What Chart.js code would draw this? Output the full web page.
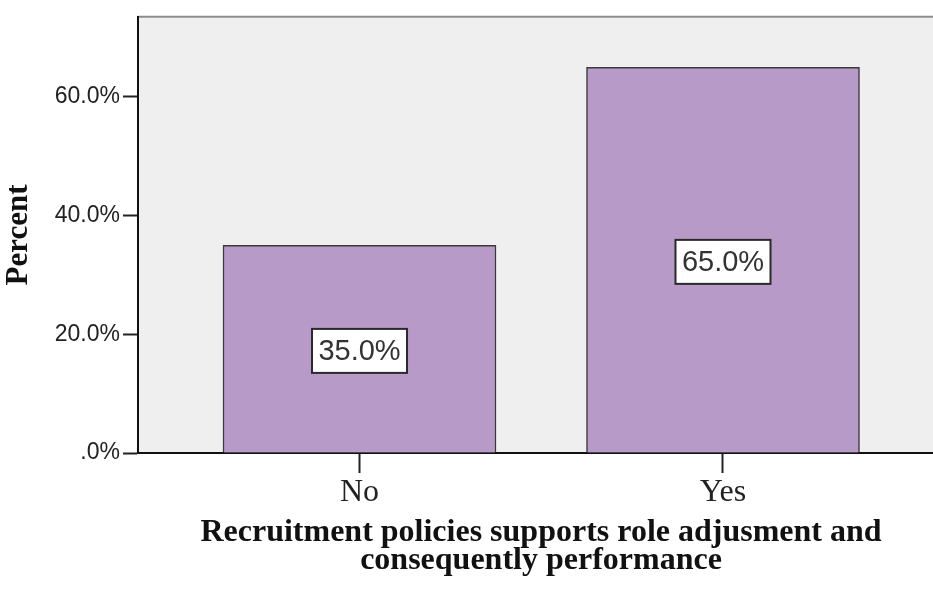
<!DOCTYPE html>
<html>
<head>
<meta charset="utf-8">
<title>Recruitment policies</title>
<script src="https://cdn.jsdelivr.net/npm/chart.js@4"></script>
<style>
  html, body { margin: 0; padding: 0; background: #fff; overflow: hidden; }
  canvas { display: block; }
</style>
</head>
<body>
<canvas id="barChart" width="950" height="590"></canvas>
<script>
const categories = ["No", "Yes"];
const percents = [35.0, 65.0];
const yTicks = [0, 20, 40, 60];
const yMax = 73.5;

// plot panel: grey fill plus the thin top edge
const panelBackground = {
    id: "panelBackground",
    beforeDraw(chart) {
        const { ctx, chartArea: a } = chart;
        ctx.save();
        ctx.fillStyle = "#efefef";
        ctx.fillRect(a.left, a.top, a.right - a.left, a.bottom - a.top);
        ctx.strokeStyle = "#8c8c8c";
        ctx.lineWidth = 2;
        ctx.beginPath();
        ctx.moveTo(a.left, a.top);
        ctx.lineTo(a.right, a.top);
        ctx.stroke();
        ctx.restore();
    }
};

// boxed percent label in the middle of each bar
const barLabels = {
    id: "barLabels",
    afterDatasetsDraw(chart) {
        const { ctx } = chart;
        const meta = chart.getDatasetMeta(0);
        ctx.save();
        ctx.font = "29px 'Liberation Sans', Arial, sans-serif";
        ctx.textAlign = "center";
        ctx.textBaseline = "middle";
        meta.data.forEach((bar, i) => {
            const text = percents[i].toFixed(1) + "%";
            const cx = bar.x;
            const cy = (bar.y + bar.base) / 2 + 2;
            const w = 95, h = 44;
            ctx.fillStyle = "#ffffff";
            ctx.fillRect(cx - w / 2, cy - h / 2, w, h);
            ctx.strokeStyle = "#2a2a2a";
            ctx.lineWidth = 2;
            ctx.strokeRect(cx - w / 2, cy - h / 2, w, h);
            ctx.fillStyle = "#333";
            ctx.fillText(text, cx, cy + 1);
        });
        ctx.restore();
    }
};

const ctx = document.getElementById("barChart").getContext("2d");

new Chart(ctx, {
    type: "bar",
    data: {
        datasets: [{
            data: percents.map((v, i) => ({ x: i, y: v })),
            backgroundColor: "#b89ac8",
            borderColor: "#3a3a3a",
            borderWidth: 1.5,
            barThickness: 273
        }]
    },
    options: {
        responsive: false,
        animation: false,
        layout: { padding: { top: 12, right: 6, left: 0, bottom: 0 } },
        plugins: {
            legend: { display: false },
            tooltip: { enabled: false }
        },
        scales: {
            x: {
                type: "linear",
                offset: false,
                min: -0.6094,
                max: 1.608,
                afterBuildTicks: (scale) => {
                    scale.ticks = categories.map((c, i) => ({ value: i }));
                },
                afterFit: (scale) => { scale.height = 137; },
                ticks: {
                    callback: (value) => categories[value] ?? "",
                    color: "#222",
                    padding: 0,
                    font: { family: "'Liberation Serif', 'Times New Roman', serif", size: 32 }
                },
                grid: {
                    offset: false,
                    drawOnChartArea: false,
                    drawTicks: true,
                    tickLength: 20,
                    tickWidth: 2,
                    tickColor: "#222"
                },
                border: { color: "#111", width: 2 },
                title: {
                    display: true,
                    text: ["Recruitment policies supports role adjusment and", "consequently performance"],
                    color: "#111",
                    padding: { top: 0, bottom: 15 },
                    font: { family: "'Liberation Serif', 'Times New Roman', serif", size: 32, weight: "bold", lineHeight: "28px" }
                }
            },
            y: {
                min: 0,
                max: yMax,
                afterBuildTicks: (scale) => {
                    scale.ticks = yTicks.map(v => ({ value: v }));
                },
                afterFit: (scale) => { scale.width = 138; },
                ticks: {
                    callback: (value) => value === 0 ? ".0%" : value.toFixed(1) + "%",
                    color: "#222",
                    padding: 3,
                    font: { family: "'Liberation Sans', Arial, sans-serif", size: 23 }
                },
                grid: {
                    drawOnChartArea: false,
                    drawTicks: true,
                    tickLength: 15,
                    tickWidth: 2,
                    tickColor: "#222"
                },
                border: { color: "#111", width: 2 },
                title: {
                    display: true,
                    text: "Percent",
                    color: "#111",
                    padding: { top: 0, bottom: 0 },
                    font: { family: "'Liberation Serif', 'Times New Roman', serif", size: 31, weight: "bold" }
                }
            }
        }
    },
    plugins: [panelBackground, barLabels]
});
</script>
</body>
</html>
